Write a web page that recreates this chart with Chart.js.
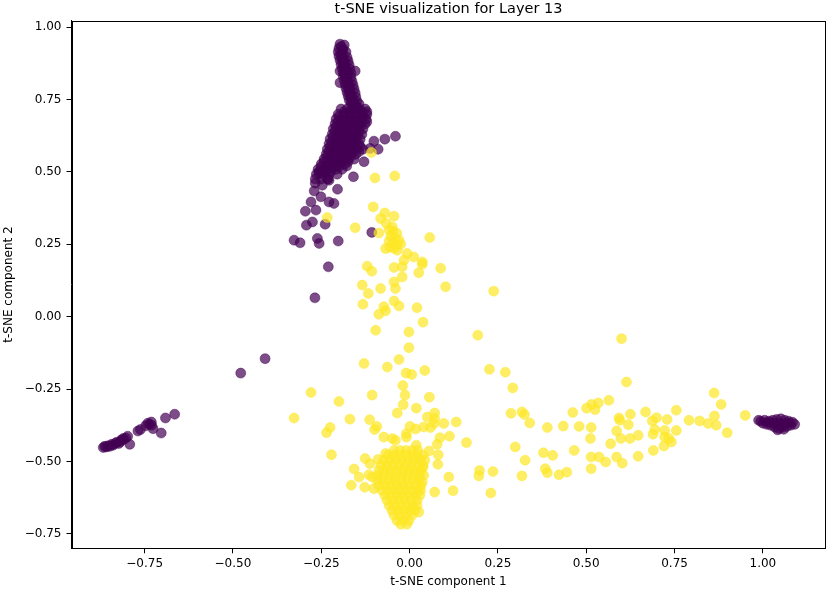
<!DOCTYPE html>
<html>
<head>
<meta charset="utf-8">
<script src="https://cdn.jsdelivr.net/npm/chart.js@4.4.0/dist/chart.umd.min.js"></script>
<style>
html,body{margin:0;padding:0;background:#fff;}
canvas{display:block;}
</style>
</head>
<body>
<canvas id="c" width="831" height="591"></canvas>
<script>
// ---- data (t-SNE coordinates) ----
const chartTitle = 't-SNE visualization for Layer 13';
const xTitle = 't-SNE component 1';
const yTitle = 't-SNE component 2';
const xTicks = [-0.75, -0.50, -0.25, 0.00, 0.25, 0.50, 0.75, 1.00];
const xTickLabels = ['\u22120.75', '\u22120.50', '\u22120.25', '0.00', '0.25', '0.50', '0.75', '1.00'];
const yTicks = [-0.75, -0.50, -0.25, 0.00, 0.25, 0.50, 0.75, 1.00];
const yTickLabels = ['\u22120.75', '\u22120.50', '\u22120.25', '0.00', '0.25', '0.50', '0.75', '1.00'];

// class 0 (purple) – upper streak
const purpleTop = [
[-0.197,0.941],[-0.185,0.938],[-0.200,0.927],[-0.188,0.924],[-0.202,0.914],[-0.191,0.910],[-0.180,0.914],
[-0.200,0.900],[-0.188,0.896],[-0.177,0.896],[-0.197,0.886],[-0.185,0.883],[-0.174,0.883],[-0.194,0.872],
[-0.183,0.869],[-0.171,0.869],[-0.191,0.858],[-0.180,0.855],[-0.169,0.855],[-0.188,0.845],[-0.177,0.841],
[-0.166,0.841],[-0.188,0.831],[-0.177,0.827],[-0.166,0.827],[-0.185,0.817],[-0.174,0.813],[-0.163,0.813],
[-0.183,0.803],[-0.171,0.800],[-0.160,0.800],[-0.180,0.789],[-0.169,0.786],[-0.157,0.786],[-0.177,0.775],
[-0.166,0.772],[-0.154,0.772],[-0.174,0.762],[-0.163,0.758],[-0.152,0.758],[-0.171,0.748],[-0.160,0.744],
[-0.149,0.744],[-0.166,0.734],[-0.154,0.731],[-0.143,0.734],[-0.197,0.848],[-0.154,0.848],[-0.197,0.808],
[-0.194,0.933],[-0.191,0.919],[-0.194,0.905],[-0.191,0.891],[-0.188,0.877],[-0.185,0.864],[-0.183,0.850],
[-0.183,0.836],[-0.180,0.822],[-0.177,0.808],[-0.174,0.794],[-0.171,0.781],[-0.168,0.767],[-0.166,0.753],
[-0.163,0.739],[-0.157,0.727],[-0.149,0.724],
[-0.194,0.717],[-0.177,0.717],[-0.160,0.717],[-0.143,0.717],[-0.126,0.717],
[-0.202,0.699],[-0.185,0.699],[-0.169,0.699],[-0.152,0.699],[-0.135,0.699],[-0.121,0.699],
[-0.208,0.682],[-0.191,0.682],[-0.174,0.682],[-0.157,0.682],[-0.140,0.682],[-0.123,0.682],
[-0.211,0.665],[-0.194,0.665],[-0.177,0.665],[-0.160,0.665],[-0.143,0.665],[-0.126,0.665],
[-0.216,0.648],[-0.200,0.648],[-0.183,0.648],[-0.166,0.648],[-0.149,0.648],[-0.132,0.648],
[-0.219,0.630],[-0.202,0.630],[-0.185,0.630],[-0.169,0.630],[-0.152,0.630],[-0.135,0.630],
[-0.225,0.613],[-0.208,0.613],[-0.191,0.613],[-0.174,0.613],[-0.157,0.613],[-0.140,0.613],
[-0.228,0.596],[-0.211,0.596],[-0.194,0.596],[-0.177,0.596],[-0.160,0.596],[-0.143,0.596],
[-0.233,0.578],[-0.216,0.578],[-0.200,0.578],[-0.183,0.578],[-0.166,0.578],[-0.149,0.578],[-0.132,0.578],
[-0.236,0.561],[-0.219,0.561],[-0.202,0.561],[-0.185,0.561],[-0.169,0.561],[-0.152,0.561],
[-0.242,0.544],[-0.225,0.544],[-0.208,0.544],[-0.191,0.544],[-0.174,0.544],[-0.157,0.544],
[-0.250,0.527],[-0.233,0.527],[-0.216,0.527],[-0.200,0.527],[-0.183,0.527],
[-0.259,0.509],[-0.242,0.509],[-0.225,0.509],[-0.208,0.509],[-0.191,0.509],
[-0.264,0.492],[-0.248,0.492],[-0.228,0.492],[-0.205,0.492],
[-0.267,0.475],[-0.250,0.475],[-0.231,0.475],[-0.267,0.461],
[-0.185,0.708],[-0.169,0.708],[-0.152,0.708],[-0.135,0.708],[-0.121,0.708],
[-0.200,0.691],[-0.183,0.691],[-0.166,0.691],[-0.149,0.691],[-0.132,0.691],
[-0.202,0.673],[-0.185,0.673],[-0.169,0.673],[-0.152,0.673],[-0.135,0.673],[-0.121,0.673],
[-0.208,0.656],[-0.191,0.656],[-0.174,0.656],[-0.157,0.656],[-0.140,0.656],
[-0.211,0.639],[-0.194,0.639],[-0.177,0.639],[-0.160,0.639],[-0.143,0.639],
[-0.216,0.622],[-0.200,0.622],[-0.183,0.622],[-0.166,0.622],[-0.149,0.622],
[-0.219,0.604],[-0.202,0.604],[-0.185,0.604],[-0.169,0.604],[-0.152,0.604],
[-0.225,0.587],[-0.208,0.587],[-0.191,0.587],[-0.174,0.587],[-0.157,0.587],[-0.140,0.587],
[-0.228,0.570],[-0.211,0.570],[-0.194,0.570],[-0.177,0.570],[-0.160,0.570],[-0.143,0.570],
[-0.233,0.553],[-0.216,0.553],[-0.200,0.553],[-0.183,0.553],[-0.166,0.553],
[-0.242,0.535],[-0.225,0.535],[-0.208,0.535],[-0.191,0.535],[-0.174,0.535],
[-0.250,0.518],[-0.233,0.518],[-0.216,0.518],[-0.200,0.518],
[-0.256,0.501],[-0.239,0.501],[-0.222,0.501],
[-0.101,0.606],[-0.070,0.613],[-0.040,0.623],[-0.089,0.578],[-0.112,0.581],[-0.159,0.483],[-0.178,0.520],
[-0.129,0.535],[-0.251,0.500],[-0.233,0.477],[-0.256,0.495],[-0.247,0.454],[-0.228,0.471],[-0.204,0.440],
[-0.270,0.434],[-0.279,0.396],[-0.251,0.414],[-0.228,0.396],[-0.214,0.391],[-0.295,0.364],[-0.265,0.368],
[-0.292,0.316],[-0.275,0.327],[-0.239,0.319],[-0.107,0.291],[-0.327,0.264],[-0.310,0.255],[-0.261,0.270],
[-0.256,0.253],[-0.202,0.261],[-0.230,0.172],[-0.268,0.065]
];
// class 0 (purple) – left tail
const purpleLeft = [
[-0.409,-0.145],[-0.478,-0.195],[-0.665,-0.337],[-0.691,-0.350],[-0.731,-0.364],[-0.726,-0.387],
[-0.703,-0.402],[-0.769,-0.395],[-0.762,-0.390],[-0.792,-0.441],[-0.811,-0.421],[-0.820,-0.433],
[-0.839,-0.444],[-0.858,-0.450],[-0.867,-0.452],[-0.863,-0.448],[-0.854,-0.446],[-0.849,-0.448],
[-0.843,-0.441],[-0.834,-0.438],[-0.829,-0.434],[-0.823,-0.438],[-0.817,-0.427],[-0.809,-0.424],
[-0.803,-0.419],[-0.798,-0.413],[-0.741,-0.368],[-0.736,-0.372],[-0.730,-0.375],[-0.747,-0.377]
];
// class 0 (purple) – right cluster
const purpleRight = [
[0.994,-0.361],[1.005,-0.358],[1.017,-0.361],[1.028,-0.358],[1.039,-0.355],[1.051,-0.353],[1.062,-0.358],
[1.073,-0.361],[1.084,-0.365],[1.090,-0.372],[1.079,-0.375],[1.068,-0.379],[1.056,-0.382],[1.045,-0.386],
[1.034,-0.382],[1.022,-0.375],[1.011,-0.372],[1.000,-0.368],[1.014,-0.365],[1.031,-0.368],[1.048,-0.368],
[1.065,-0.368],[1.076,-0.368],[1.039,-0.375],[1.056,-0.372],[1.059,-0.389],[1.042,-0.391],[0.988,-0.358]
];
// class 1 (yellow) – central vertical spread
const yellowUpper = [
[-0.108,0.567],[-0.098,0.479],[-0.042,0.486],[-0.233,0.342],[-0.154,0.307],[-0.103,0.379],[-0.087,0.289],
[-0.070,0.358],[-0.044,0.347],[-0.082,0.339],[-0.066,0.322],[-0.049,0.310],[-0.058,0.299],[-0.047,0.295],
[-0.036,0.288],[-0.053,0.278],[-0.042,0.271],[-0.030,0.264],[-0.058,0.261],[-0.047,0.254],[-0.036,0.247],
[-0.025,0.250],[-0.044,0.236],[-0.056,0.240],[0.057,0.273],[-0.068,0.235],[-0.035,0.229],[-0.007,0.218],
[0.012,0.206],[0.036,0.189],[-0.016,0.195],[-0.021,0.172],[-0.044,0.170],[-0.120,0.174],[-0.107,0.157],
[0.026,0.152],[0.088,0.167],[0.036,0.181],[-0.021,0.137],[-0.044,0.120],[-0.040,0.097],[-0.134,0.109],
[-0.117,0.080],[-0.082,0.097],[0.102,0.103],[0.238,0.088],[-0.132,0.043],[-0.087,0.008],[-0.073,0.034],
[-0.044,0.054],[-0.030,0.037],[0.021,0.031],[0.038,-0.019],[-0.068,0.020],[0.193,-0.064],
[-0.096,-0.047],[-0.002,-0.053],[-0.002,-0.107],[-0.129,-0.162],[-0.063,-0.174],[-0.030,-0.148],
[-0.010,-0.195],[0.006,-0.200],[0.043,-0.186],[0.226,-0.182],[0.271,-0.192],[0.292,-0.246],
[-0.279,-0.262],[-0.200,-0.293],[-0.106,-0.271],[-0.019,-0.238],[-0.013,-0.271],[-0.018,-0.304],
[0.056,-0.278],[0.019,-0.316],[-0.035,-0.333],[-0.327,-0.350],[-0.169,-0.354],[-0.113,-0.356],
[-0.093,-0.379],[-0.099,-0.390],[-0.225,-0.383],[-0.235,-0.401],[-0.221,-0.477]
];
// class 1 (yellow) – around and inside the dense lower cluster
const yellowLower = [
[-0.073,-0.416],[-0.049,-0.421],[-0.040,-0.427],[-0.009,-0.404],[-0.009,-0.416],[0.001,-0.379],
[0.017,-0.388],[0.040,-0.381],[0.059,-0.383],[0.050,-0.347],[0.071,-0.333],[0.071,-0.352],[0.097,-0.369],
[0.132,-0.364],[0.086,-0.418],[0.113,-0.413],[0.078,-0.441],[0.161,-0.435],[0.019,-0.444],[0.055,-0.464],
[0.081,-0.477],[0.080,-0.510],[-0.068,-0.473],[-0.089,-0.493],[-0.126,-0.490],[-0.112,-0.508],
[-0.157,-0.526],[-0.143,-0.554],[-0.115,-0.546],[-0.106,-0.554],[-0.165,-0.582],[-0.127,-0.589],
[0.111,-0.554],[0.071,-0.606],[0.123,-0.601],[0.198,-0.531],[0.196,-0.550],[0.236,-0.535],[0.230,-0.609],
[0.299,-0.450],[0.287,-0.334],[0.318,-0.329],[0.327,-0.496],[0.318,-0.550],[0.069,-0.369],
[0.038,-0.519],[-0.101,-0.594],[0.036,-0.571],[0.031,-0.600],[0.026,-0.675],
[-0.044,-0.462],[-0.027,-0.462],[-0.010,-0.462],[0.007,-0.462],[0.023,-0.462],
[-0.061,-0.479],[-0.044,-0.479],[-0.027,-0.479],[-0.010,-0.479],[0.007,-0.479],[0.023,-0.479],[0.038,-0.479],
[-0.073,-0.496],[-0.056,-0.496],[-0.039,-0.496],[-0.022,-0.496],[-0.005,-0.496],[0.012,-0.496],[0.029,-0.496],[0.043,-0.496],
[-0.081,-0.514],[-0.064,-0.514],[-0.047,-0.514],[-0.030,-0.514],[-0.013,-0.514],[0.004,-0.514],[0.021,-0.514],[0.038,-0.514],
[-0.087,-0.531],[-0.070,-0.531],[-0.053,-0.531],[-0.036,-0.531],[-0.019,-0.531],[-0.002,-0.531],[0.015,-0.531],[0.032,-0.531],
[-0.089,-0.548],[-0.073,-0.548],[-0.056,-0.548],[-0.039,-0.548],[-0.022,-0.548],[-0.005,-0.548],[0.012,-0.548],[0.029,-0.548],[0.040,-0.548],
[-0.092,-0.565],[-0.075,-0.565],[-0.058,-0.565],[-0.042,-0.565],[-0.025,-0.565],[-0.008,-0.565],[0.009,-0.565],[0.026,-0.565],
[-0.087,-0.583],[-0.070,-0.583],[-0.053,-0.583],[-0.036,-0.583],[-0.019,-0.583],[-0.002,-0.583],[0.015,-0.583],[0.032,-0.583],
[-0.078,-0.600],[-0.061,-0.600],[-0.044,-0.600],[-0.027,-0.600],[-0.010,-0.600],[0.007,-0.600],[0.023,-0.600],
[-0.070,-0.617],[-0.053,-0.617],[-0.036,-0.617],[-0.019,-0.617],[-0.002,-0.617],[0.015,-0.617],[0.029,-0.617],
[-0.064,-0.634],[-0.047,-0.634],[-0.030,-0.634],[-0.013,-0.634],[0.004,-0.634],[0.021,-0.634],
[-0.058,-0.652],[-0.042,-0.652],[-0.025,-0.652],[-0.008,-0.652],[0.009,-0.652],[0.021,-0.652],
[-0.050,-0.669],[-0.033,-0.669],[-0.016,-0.669],[0.001,-0.669],[0.015,-0.669],
[-0.044,-0.686],[-0.027,-0.686],[-0.010,-0.686],[0.007,-0.686],
[-0.036,-0.704],[-0.019,-0.704],[-0.002,-0.704],
[-0.025,-0.717],[-0.008,-0.717]
];
// class 1 (yellow) – right arm
const yellowRight = [
[0.600,-0.076],[0.614,-0.226],[0.862,-0.264],[0.882,-0.303],[0.950,-0.341],[0.863,-0.343],[0.868,-0.375],
[0.845,-0.369],[0.899,-0.401],[0.821,-0.360],[0.791,-0.358],[0.755,-0.323],[0.755,-0.393],[0.729,-0.355],
[0.699,-0.349],[0.687,-0.360],[0.668,-0.329],[0.694,-0.390],[0.689,-0.406],[0.722,-0.393],[0.722,-0.416],
[0.734,-0.421],[0.741,-0.433],[0.720,-0.447],[0.690,-0.462],[0.647,-0.410],[0.625,-0.337],[0.619,-0.373],
[0.593,-0.350],[0.595,-0.358],[0.586,-0.395],[0.598,-0.421],[0.624,-0.421],[0.569,-0.439],[0.564,-0.289],
[0.534,-0.298],[0.515,-0.303],[0.501,-0.316],[0.525,-0.321],[0.462,-0.331],[0.514,-0.383],[0.480,-0.379],
[0.435,-0.378],[0.390,-0.383],[0.512,-0.421],[0.466,-0.462],[0.514,-0.485],[0.536,-0.485],[0.555,-0.502],
[0.586,-0.485],[0.602,-0.506],[0.647,-0.482],[0.514,-0.525],[0.379,-0.470],[0.405,-0.479],[0.384,-0.525],
[0.390,-0.539],[0.423,-0.546],[0.445,-0.537],[0.325,-0.338],[0.340,-0.367]
];

const purplePoints = purpleTop.concat(purpleLeft, purpleRight).map(p => ({x: p[0], y: p[1]}));
const yellowPoints = yellowUpper.concat(yellowLower, yellowRight).map(p => ({x: p[0], y: p[1]}));

const PURPLE = 'rgba(68,1,84,0.7)';
const YELLOW = 'rgba(253,231,37,0.7)';
const FONT = 'DejaVu Sans';

const framePlugin = {
  id: 'frame',
  afterDraw(chart) {
    const a = chart.chartArea, ctx = chart.ctx;
    ctx.save();
    ctx.strokeStyle = '#000';
    ctx.lineWidth = 1;
    ctx.strokeRect(Math.round(a.left) + 0.5, Math.round(a.top) + 0.5,
                   Math.round(a.right - a.left) - 1, Math.round(a.bottom - a.top) - 1);
    ctx.restore();
  }
};

new Chart(document.getElementById('c'), {
  type: 'scatter',
  data: {
    datasets: [
      { label: 'class 0', data: purplePoints, order: 1,
        backgroundColor: PURPLE, borderColor: PURPLE, borderWidth: 0.6,
        pointRadius: 5, pointHoverRadius: 5 },
      { label: 'class 1', data: yellowPoints, order: 0,
        backgroundColor: YELLOW, borderColor: YELLOW, borderWidth: 0.6,
        pointRadius: 5, pointHoverRadius: 5 }
    ]
  },
  options: {
    responsive: false,
    animation: false,
    devicePixelRatio: 1,
    layout: { padding: { left: 0, right: 3, top: 0, bottom: 0 } },
    plugins: {
      legend: { display: false },
      tooltip: { enabled: false },
      title: {
        display: true, text: chartTitle, fullSize: false,
        color: '#000', font: { family: FONT, size: 14.5, weight: 'normal', lineHeight: 1.2 },
        padding: { top: 0.5, bottom: 2.8 }
      }
    },
    scales: {
      x: {
        type: 'linear', min: -0.957, max: 1.177,
        afterBuildTicks: s => { s.ticks = xTicks.map(v => ({ value: v })); },
        afterFit: s => { s.height = 42.7; },
        ticks: {
          autoSkip: false, maxRotation: 0, padding: 3, color: '#000',
          font: { family: FONT, size: 12 },
          callback: v => xTickLabels[xTicks.indexOf(v)]
        },
        grid: { drawOnChartArea: false, drawTicks: true, tickLength: 5, color: '#000', lineWidth: 1 },
        border: { display: true, color: '#000', width: 1 },
        title: { display: true, text: xTitle, color: '#000',
                 font: { family: FONT, size: 12, lineHeight: 1.2 }, padding: { top: 0, bottom: 2 } }
      },
      y: {
        type: 'linear', min: -0.800, max: 1.022,
        afterBuildTicks: s => { s.ticks = yTicks.map(v => ({ value: v })); },
        afterFit: s => { s.width = 71.5; },
        ticks: {
          autoSkip: false, padding: 5, color: '#000',
          font: { family: FONT, size: 12 },
          callback: v => yTickLabels[yTicks.indexOf(v)]
        },
        grid: { drawOnChartArea: false, drawTicks: true, tickLength: 5, color: '#000', lineWidth: 1 },
        border: { display: true, color: '#000', width: 1 },
        title: { display: true, text: yTitle, color: '#000',
                 font: { family: FONT, size: 12, lineHeight: 1.2 }, padding: { top: 1.5, bottom: 0 } }
      }
    }
  },
  plugins: [framePlugin]
});
</script>
</body>
</html>
